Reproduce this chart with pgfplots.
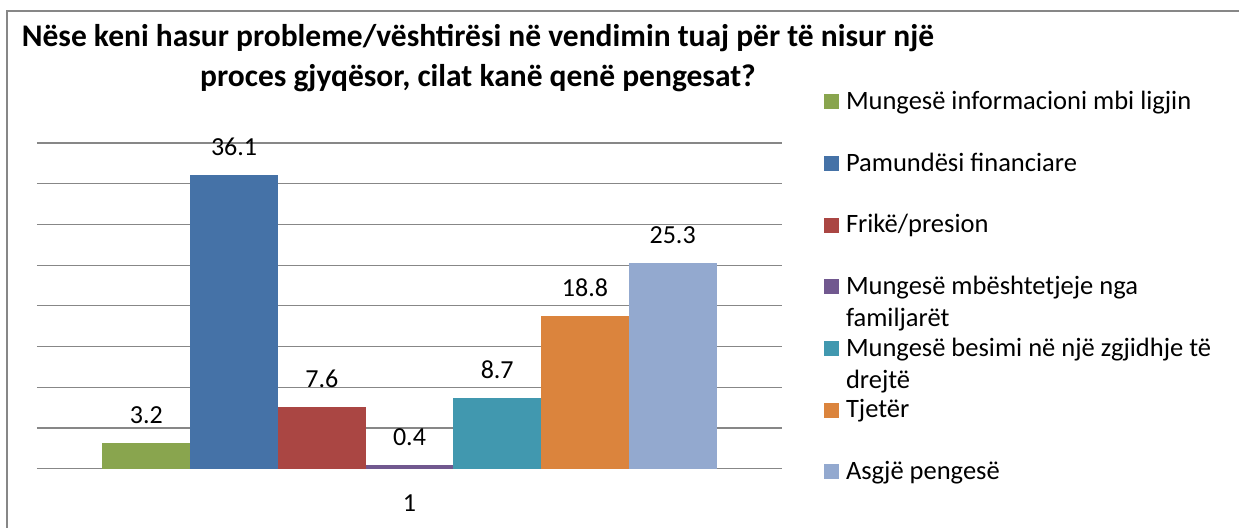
\documentclass[border=0pt]{standalone}
\usepackage{fontspec}
\setmainfont{Carlito}
\usepackage{pgfplots}
\pgfplotsset{compat=1.18}

\definecolor{cGreen}{HTML}{89A54E}
\definecolor{cBlue}{HTML}{4572A7}
\definecolor{cRed}{HTML}{AA4643}
\definecolor{cPurple}{HTML}{71588F}
\definecolor{cTeal}{HTML}{4198AF}
\definecolor{cOrange}{HTML}{DB843D}
\definecolor{cLight}{HTML}{93A9CF}
\definecolor{cGrid}{HTML}{878787}

\begin{document}
\begin{tikzpicture}
\useasboundingbox (0,0) rectangle (619.5pt,263.5pt);
% chart frame, cut by the page on the right and at the bottom
\draw[cGrid, line width=0.9pt] (3.5pt,-5pt) -- (3.5pt,258pt) -- (630pt,258pt);
\node[anchor=base, inner sep=0pt, font=\fontsize{15.75}{19.75}\selectfont\bfseries]
  at (239pt,240.25pt)
  {\begin{tabular}[t]{@{}c@{}}Nëse keni hasur probleme/vështirësi në vendimin tuaj për të nisur një\\
   proces gjyqësor, cilat kanë qenë pengesat?\end{tabular}};
\begin{axis}[
  at={(18.5pt,29.15pt)}, anchor=south west,
  scale only axis, width=372.5pt, height=162.85pt,
  ybar=0pt, bar width=43.86pt,
  xmin=-1, xmax=1, ymin=0, ymax=40,
  xtick={0}, xticklabels={1},
  ytick={0,5,...,40}, yticklabels={},
  ymajorgrids, grid style={cGrid, line width=0.6pt},
  axis line style={draw=none}, tick style={draw=none},
  /pgf/number format/assume math mode=true,
  /pgf/number format/.cd, fixed, fixed zerofill, precision=1, /pgfplots/.cd,
  xticklabel style={font=\fontsize{13}{16}\selectfont, anchor=north, inner sep=0pt, yshift=-8.6pt},
  nodes near coords,
  every node near coord/.append style={font=\fontsize{13}{16}\selectfont, anchor=south, inner sep=0pt, yshift=9.5pt},
  legend image code/.code={\fill[#1] (0pt,0pt) rectangle (7.5pt,7.5pt);},
  legend style={at={(rel axis cs:1.0564,1.1643)}, anchor=north west,
    draw=none, fill=none, inner sep=0pt, outer sep=0pt,
    font=\fontsize{13.25}{16.25}\selectfont,
    row sep={30.83pt,between origins}, /tikz/column sep=3.5pt,
    cells={anchor=base west},
    nodes={inner sep=0pt, text height=10pt, text depth=0pt, anchor=base west}},
  legend cell align=left,
]
\addplot[fill=cGreen, draw=none] coordinates {(0,3.2)};
\addlegendentry{Mungesë informacioni mbi ligjin}
\addplot[fill=cBlue, draw=none] coordinates {(0,36.1)};
\addlegendentry{Pamundësi financiare}
\addplot[fill=cRed, draw=none] coordinates {(0,7.6)};
\addlegendentry{Frikë/presion}
\addplot[fill=cPurple, draw=none] coordinates {(0,0.4)};
\addlegendentry{\begin{tabular}[t]{@{}l@{}}Mungesë mbështetjeje nga\\familjarët\end{tabular}}
\addplot[fill=cTeal, draw=none] coordinates {(0,8.7)};
\addlegendentry{\begin{tabular}[t]{@{}l@{}}Mungesë besimi në një zgjidhje të\\drejtë\end{tabular}}
\addplot[fill=cOrange, draw=none] coordinates {(0,18.8)};
\addlegendentry{Tjetër}
\addplot[fill=cLight, draw=none] coordinates {(0,25.3)};
\addlegendentry{Asgjë pengesë}
\end{axis}
\end{tikzpicture}
\end{document}
